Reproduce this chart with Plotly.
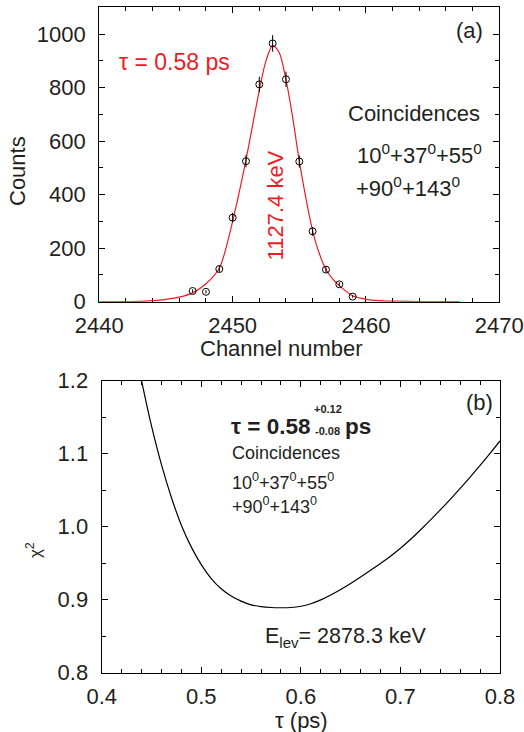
import plotly.graph_objects as go
import numpy as np

# ---- Panel (a) data: measured spectrum ----
channels = [2447, 2448, 2449, 2450, 2451, 2452, 2453, 2454, 2455, 2456, 2457, 2458, 2459]
counts = [40, 37, 122, 314, 525, 812, 965, 831, 524, 263, 120, 65, 19]

# fitted line shape
fit_ch = [2440, 2443, 2444, 2445, 2446, 2447, 2448, 2449, 2449.5, 2450, 2450.5, 2451, 2451.5,
          2452, 2452.5, 2453, 2453.5, 2454, 2454.5, 2455, 2455.5, 2456, 2456.5, 2457, 2457.5,
          2458, 2459, 2460, 2461, 2462, 2464, 2467]
fit_counts = [0, 1, 4, 9, 17, 33, 67, 125, 200, 300, 410, 530, 660,
              790, 900, 958, 930, 830, 690, 525, 385, 265, 180, 120, 85,
              60, 22, 9, 4, 2, 0.5, 0]

# ---- Panel (b) data: chi-square vs lifetime ----
tau = [0.44, 0.45, 0.46, 0.47, 0.48, 0.49, 0.50, 0.51, 0.52, 0.53, 0.54, 0.55, 0.56, 0.57, 0.58,
       0.59, 0.60, 0.61, 0.62, 0.63, 0.64, 0.65, 0.66, 0.67, 0.68, 0.69, 0.70, 0.71, 0.72, 0.73,
       0.74, 0.75, 0.76, 0.77, 0.78, 0.79, 0.80]
chi2 = [1.200, 1.138, 1.085, 1.040, 1.002, 0.972, 0.948, 0.929, 0.915, 0.905, 0.898, 0.893, 0.8905, 0.8893, 0.8890,
        0.8893, 0.8910, 0.8945, 0.8998, 0.9065, 0.9140, 0.9222, 0.9310, 0.9402, 0.9497, 0.9595, 0.9705, 0.9825,
        0.9955, 1.0090, 1.0230, 1.0375, 1.0525, 1.0680, 1.0840, 1.1005, 1.1175]

RED = "#ed1c24"
FONT = "Liberation Sans, Arial, sans-serif"
W, H = 524, 732

fig = go.Figure()

fig.add_trace(go.Scatter(
    x=fit_ch, y=fit_counts, mode="lines", line=dict(color=RED, width=1.2, shape="spline", smoothing=0.8),
    xaxis="x", yaxis="y", showlegend=False, hoverinfo="skip"))
fig.add_trace(go.Scatter(
    x=channels, y=counts, mode="markers",
    marker=dict(symbol="circle-open", size=7, color="black", line=dict(width=1, color="black")),
    error_y=dict(type="data", array=list(np.sqrt(counts)), color="black", thickness=1, width=0),
    xaxis="x", yaxis="y", showlegend=False))

fig.add_trace(go.Scatter(
    x=tau, y=chi2, mode="lines", line=dict(color="black", width=1.2, shape="spline", smoothing=1.0),
    xaxis="x2", yaxis="y2", showlegend=False))

common = dict(showline=True, linecolor="black", linewidth=1.3, mirror="ticks", ticks="inside",
              ticklen=6, tickwidth=1, tickcolor="black", showgrid=False, zeroline=False,
              automargin=False,
              tickfont=dict(family=FONT, size=22, color="#231f20"))

fig.update_layout(
    template="none",
    width=W, height=H, margin=dict(l=0, r=0, t=0, b=0, pad=0), autosize=False,
    paper_bgcolor="white", plot_bgcolor="white",
    xaxis=dict(domain=[99.3 / W, 499.3 / W], range=[2440, 2470], dtick=10, anchor="y",
               minor=dict(dtick=2, ticks="inside", ticklen=4, tickcolor="black"),
               ticklabelstandoff=4, layer="below traces", **common),
    yaxis=dict(domain=[1 - 301.7 / H, 1 - 7.3 / H], range=[0, 1100], dtick=200, anchor="x",
               minor=dict(dtick=100, ticks="inside", ticklen=4, tickcolor="black"),
               ticklabelstandoff=8, **common),
    xaxis2=dict(domain=[101.7 / W, 500 / W], range=[0.4, 0.8], dtick=0.1, tickformat=".1f", anchor="y2",
                minor=dict(dtick=0.02, ticks="inside", ticklen=4, tickcolor="black"),
                ticklabelstandoff=4, **common),
    yaxis2=dict(domain=[1 - 672.7 / H, 1 - 380.7 / H], range=[0.8, 1.2], dtick=0.1, tickformat=".1f", anchor="x2",
                minor=dict(dtick=0.05, ticks="inside", ticklen=4, tickcolor="black"),
                ticklabelstandoff=8, **common),
)

TXT = "#231f20"
ann = []
def A(text, x, y, xref, yref, size=22, color=TXT, xanchor="left", yanchor="middle", angle=0, bold=False):
    ann.append(dict(text=("<b>%s</b>" % text) if bold else text, x=x, y=y, xref=xref, yref=yref,
                    showarrow=False, xanchor=xanchor, yanchor=yanchor, textangle=angle,
                    font=dict(family=FONT, size=size, color=color)))

def P(px, py):
    return px / W, 1 - py / H

# axis titles
x_, y_ = P(281, 348); A("Channel number", x_, y_, "paper", "paper", xanchor="center")
x_, y_ = P(17, 171); A("Counts", x_, y_, "paper", "paper", xanchor="center", angle=-90)
x_, y_ = P(301, 720); A("τ (ps)", x_, y_, "paper", "paper", xanchor="center")
x_, y_ = P(34, 550); A("χ<sup>2</sup>", x_, y_, "paper", "paper", size=17, xanchor="center", angle=-90)

# panel (a) texts
A("τ = 0.58 ps", 2441.3, 897, "x", "y", size=23, color=RED)
A("(a)", 2468.9, 1012, "x", "y", xanchor="right")
A("Coincidences", 2458.5, 705, "x", "y")
A("10<sup>0</sup>+37<sup>0</sup>+55<sup>0</sup>", 2459.15, 550, "x", "y")
A("+90<sup>0</sup>+143<sup>0</sup>", 2459.1, 428, "x", "y")
A("1127.4 keV", 2453.2, 361, "x", "y", color=RED, xanchor="center", angle=-90)

# panel (b) texts
A("(b)", 0.795, 1.1695, "x2", "y2", xanchor="right")
A("τ = 0.58", 0.5278, 1.1366, "x2", "y2", size=22.5, bold=True)
A("+0.12", 0.6115, 1.161, "x2", "y2", size=11, bold=True)
A("-0.08", 0.6125, 1.1315, "x2", "y2", size=11, bold=True)
A("ps", 0.6425, 1.1366, "x2", "y2", size=22.5, bold=True)
A("Coincidences", 0.5289, 1.101, "x2", "y2", size=18)
A("10<sup>0</sup>+37<sup>0</sup>+55<sup>0</sup>", 0.5289, 1.062, "x2", "y2", size=18)
A("+90<sup>0</sup>+143<sup>0</sup>", 0.5289, 1.029, "x2", "y2", size=18)
A("E<sub>lev</sub>= 2878.3 keV", 0.562, 0.848, "x2", "y2", size=21.5)

fig.update_layout(annotations=ann)
fig.write_html("out.html")
